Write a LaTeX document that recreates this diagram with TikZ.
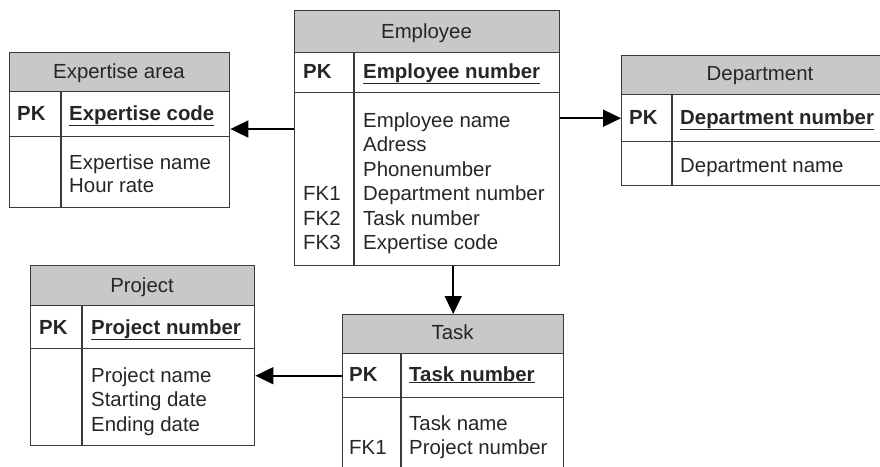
\documentclass[tikz,border=0pt]{standalone}
\usepackage{fontspec}
\setmainfont{Liberation Sans}
\usetikzlibrary{arrows.meta}

\definecolor{headgray}{HTML}{C8C8C8}
\definecolor{linegray}{HTML}{3A3A3A}
\definecolor{textgray}{HTML}{262626}

\tikzset{
  tabbox/.style={draw=linegray, line width=1.4pt, anchor=north west, inner sep=0pt},
  tabhead/.style={tabbox, fill=headgray},
  tabline/.style={draw=linegray, line width=1.4pt},
  tabtext/.style={anchor=base west, inner sep=0pt, text=textgray, font=\fontsize{20.4}{24}\selectfont},
  tabtitle/.style={tabtext, anchor=base},
  keytext/.style={tabtext, font=\fontsize{20.4}{24}\selectfont\bfseries},
  link/.style={draw=black, line width=1.8pt, -{Triangle[length=18pt,width=17pt]}},
}

\begin{document}
\begin{tikzpicture}[x=1pt,y=-1pt]
\useasboundingbox (0,0) rectangle (880,466);
\clip (0,0) rectangle (880,466);

% Expertise area
\node[tabhead, minimum width=220, minimum height=39] (exp-head) at (9,52) {};
\node[tabbox, minimum width=220, minimum height=45] (exp-key) at (9,91) {};
\node[tabbox, minimum width=220, minimum height=71] (exp-body) at (9,136) {};
\draw[tabline] (61,91) -- (61,207);
\node[tabtitle] (exp-title) at (119,78) {Expertise area};
\node[keytext] (exp-pk) at (17,120) {PK};
\node[keytext] (exp-id) at (69,120) {\underline{Expertise code}};
\foreach \t [count=\i] in {Expertise name, Hour rate}
  \node[tabtext] (exp-a\i) at (69,145.5+23.5*\i) {\t};

% Employee
\node[tabhead, minimum width=265, minimum height=42] (emp-head) at (294,10) {};
\node[tabbox, minimum width=265, minimum height=40] (emp-key) at (294,52) {};
\node[tabbox, minimum width=265, minimum height=173] (emp-body) at (294,92) {};
\draw[tabline] (354,52) -- (354,265);
\node[tabtitle] (emp-title) at (426.5,38) {Employee};
\node[keytext] (emp-pk) at (303,78) {PK};
\node[keytext] (emp-id) at (363,78) {\underline{Employee number}};
\foreach \t [count=\i] in {Employee name, Adress, Phonenumber, Department number, Task number, Expertise code}
  \node[tabtext] (emp-a\i) at (363,102.5+24.5*\i) {\t};
\foreach \i in {1,2,3}
  \node[tabtext] (emp-fk\i) at (303,176+24.5*\i) {FK\i};

% Department
\node[tabhead, minimum width=280, minimum height=39] (dep-head) at (621,55) {};
\node[tabbox, minimum width=280, minimum height=47] (dep-key) at (621,94) {};
\node[tabbox, minimum width=280, minimum height=44] (dep-body) at (621,141) {};
\draw[tabline] (672,94) -- (672,185);
\node[tabtitle] (dep-title) at (760,80) {Department};
\node[keytext] (dep-pk) at (629,124) {PK};
\node[keytext] (dep-id) at (680,124) {\underline{Department number}};
\node[tabtext] (dep-a1) at (680,172) {Department name};

% Project
\node[tabhead, minimum width=224, minimum height=40] (proj-head) at (30,265) {};
\node[tabbox, minimum width=224, minimum height=43] (proj-key) at (30,305) {};
\node[tabbox, minimum width=224, minimum height=97] (proj-body) at (30,348) {};
\draw[tabline] (82,305) -- (82,445);
\node[tabtitle] (proj-title) at (142,292) {Project};
\node[keytext] (proj-pk) at (39,334) {PK};
\node[keytext] (proj-id) at (91,334) {\underline{Project number}};
\foreach \t [count=\i] in {Project name, Starting date, Ending date}
  \node[tabtext] (proj-a\i) at (91,357.5+24.5*\i) {\t};

% Task
\node[tabhead, minimum width=221, minimum height=39] (task-head) at (342,314) {};
\node[tabbox, minimum width=221, minimum height=44] (task-key) at (342,353) {};
\node[tabbox, minimum width=221, minimum height=90] (task-body) at (342,397) {};
\draw[tabline] (401,353) -- (401,490);
\node[tabtitle] (task-title) at (452.5,339) {Task};
\node[keytext] (task-pk) at (349,381) {PK};
\node[keytext] (task-id) at (409,381) {\underline{Task number}};
\foreach \t [count=\i] in {Task name, Project number}
  \node[tabtext] (task-a\i) at (409,406+24*\i) {\t};
\node[tabtext] (task-fk1) at (349,454) {FK1};

% relations
\draw[link] (emp-body.west |- 0,129) -- (exp-key.east |- 0,129);
\draw[link] (emp-body.east |- dep-key.west) -- (dep-key.west);
\draw[link] (emp-body.south -| task-head.north) -- (task-head.north);
\draw[link] (task-key.west) -- (task-key.west -| proj-body.east);
\end{tikzpicture}
\end{document}
